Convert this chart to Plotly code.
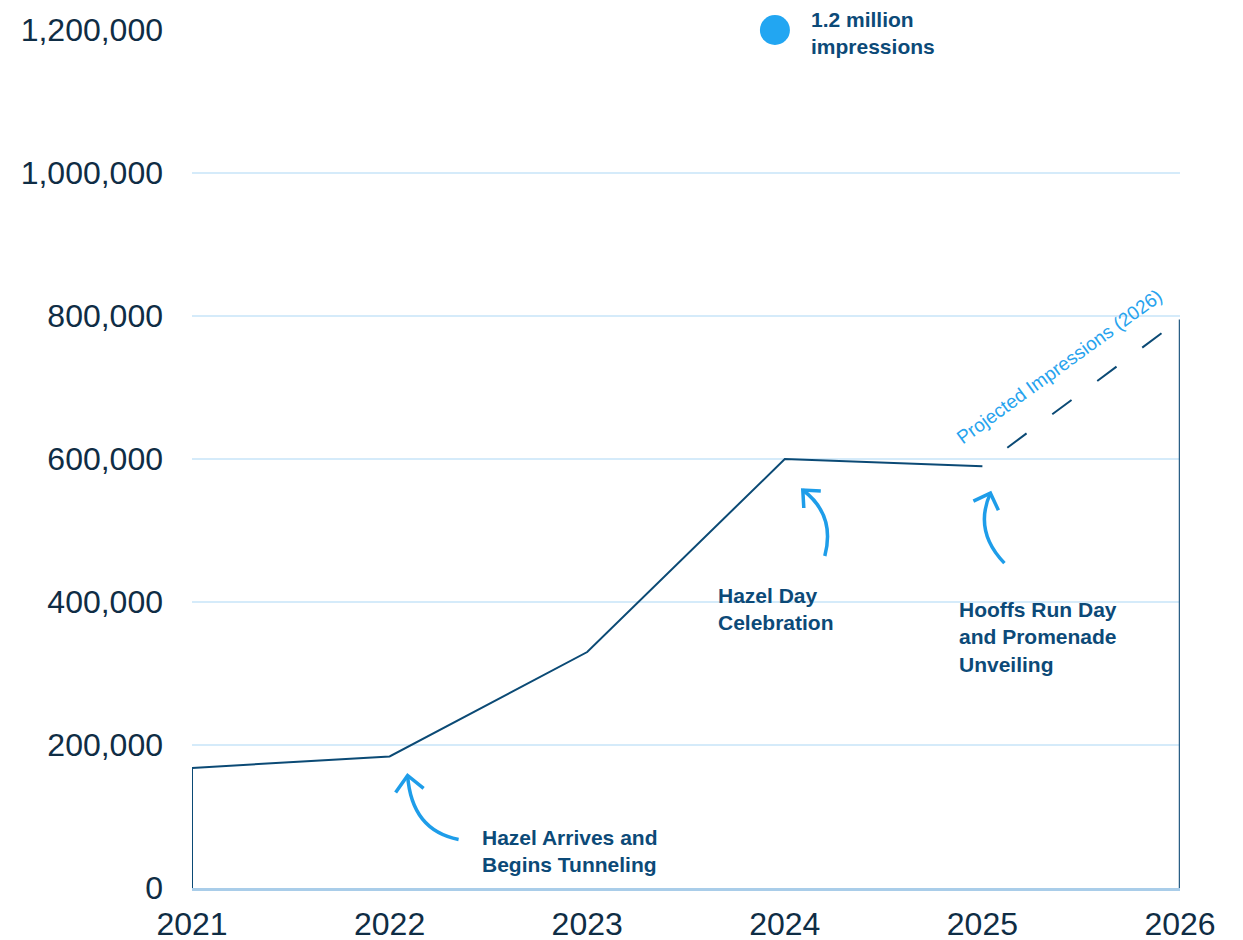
import plotly.graph_objects as go

# impressions per year
years = [2021, 2022, 2023, 2024, 2025]
impressions = [168000, 184000, 330000, 600000, 590000]
proj_year = 2026
proj_value = 795000
goal_year = 2023.95
goal_value = 1200000

x_ticks = [2021, 2022, 2023, 2024, 2025, 2026]
y_ticks = [0, 200000, 400000, 600000, 800000, 1000000, 1200000]
y_tick_text = ["0", "200,000", "400,000", "600,000", "800,000", "1,000,000", "1,200,000"]

NAVY = "#0b4a75"
TEXT = "#0f2d45"
BLUE = "#1e9de9"
GRID = "#d5ebfa"
FONT = "Liberation Sans"

fig = go.Figure()

# solid outline: up the 2021 edge and along the actual years
fig.add_trace(go.Scatter(
    x=[years[0]] + years, y=[0] + impressions, mode="lines",
    line=dict(color=NAVY, width=2), cliponaxis=False, hoverinfo="skip"))

# projected segment (starts with a gap, like the original)
fig.add_trace(go.Scatter(
    x=[years[-1], proj_year], y=[impressions[-1], proj_value], mode="lines",
    line=dict(color=NAVY, width=2, dash="0px,31px,24px,1px"), cliponaxis=False, hoverinfo="skip"))

# right edge at 2026
fig.add_trace(go.Scatter(
    x=[proj_year, proj_year], y=[proj_value, 0], mode="lines",
    line=dict(color="#2b5f86", width=2.5), cliponaxis=False, hoverinfo="skip"))

# 1.2 million goal dot
fig.add_trace(go.Scatter(
    x=[goal_year], y=[goal_value], mode="markers",
    marker=dict(color="#22a6f2", size=30), cliponaxis=False, hoverinfo="skip"))

# curved arrows, drawn in pixels relative to the point they point at
arrows = [
    # anchor (data), curve path, arrow head path
    ((years[1], impressions[1]), "M 69,-83 Q 22,-74 18,-19", "M 6,-36 L 18,-19 L 34,-32"),
    ((years[3], impressions[3]), "M 40,-97 Q 51,-56 18,-31", "M 19,-49 L 18,-31 L 36,-32"),
    ((years[4], impressions[4]), "M 22,-97 Q -9,-65 8,-27", "M -9,-35 L 8,-27 L 16,-44"),
]
for (ax_, ay_), curve, head in arrows:
    for p in (curve, head):
        fig.add_shape(type="path", xref="x", yref="y",
                      xsizemode="pixel", ysizemode="pixel",
                      xanchor=ax_, yanchor=ay_, path=p,
                      line=dict(color=BLUE, width=3.5), layer="above")

labels = [
    (2022.457, 89000, "Hazel Arrives and<br>Begins Tunneling"),
    (2023.652, 428000, "Hazel Day<br>Celebration"),
    (2024.871, 408000, "Hooffs Run Day<br>and Promenade<br>Unveiling"),
]
for lx, ly, txt in labels:
    fig.add_annotation(x=lx, y=ly, text="<b>" + txt + "</b>", showarrow=False,
                       xanchor="left", yanchor="top", align="left",
                       font=dict(family=FONT, size=21, color="#0c4a78"))

fig.add_annotation(x=2024.122, y=goal_value, text="<b>1.2 million<br>impressions</b>",
                   showarrow=False, xanchor="left", yanchor="middle", align="left", yshift=-3,
                   font=dict(family=FONT, size=21, color="#0c4a78"))

fig.add_annotation(x=2025.39, y=730000, text="Projected Impressions (2026)",
                   showarrow=False, textangle=-36,
                   font=dict(family=FONT, size=19, color="#27a3ee"))

# page body adds 8px, so margins are trimmed by that much
fig.update_layout(
    width=1243, height=940,
    margin=dict(l=184, r=71, t=22, b=60),
    plot_bgcolor="white", paper_bgcolor="white",
    showlegend=False,
    font=dict(family=FONT, color=TEXT),
    xaxis=dict(range=[2021, 2026], tickvals=x_ticks, ticktext=[str(t) for t in x_ticks],
               showgrid=False, zeroline=False, showline=True, linecolor="#a9cde9", linewidth=3,
               tickfont=dict(size=32, color=TEXT), ticklabelstandoff=6, automargin=False),
    yaxis=dict(range=[0, 1200000], tickvals=y_ticks, ticktext=y_tick_text,
               showgrid=True, gridcolor=GRID, gridwidth=2, zeroline=False,
               tickfont=dict(size=32, color=TEXT), ticklabelstandoff=28, automargin=False),
)

fig.write_html("out.html")
